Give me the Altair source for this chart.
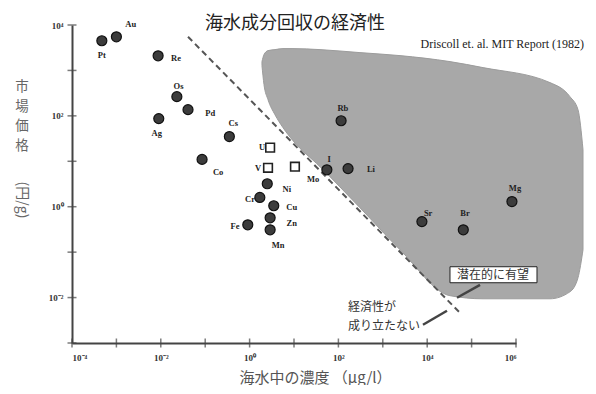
import json
import altair as alt
import pandas as pd

# ---- data ----
elements = ["Pt", "Au", "Re", "Os", "Pd", "Ag", "Cs", "Co", "U", "V", "Mo", "I",
            "Li", "Rb", "Ni", "Cr", "Cu", "Zn", "Mn", "Fe", "Sr", "Br", "Mg"]
conc = [4.7e-4, 1.0e-3, 8.7e-3, 0.023, 0.041, 0.009, 0.35, 0.085, 2.9, 2.6, 10.5, 55,
        165, 115, 2.5, 1.7, 3.5, 2.9, 2.9, 0.91, 7600, 65000, 8.1e5]
price = [4500, 5500, 2100, 265, 137, 87, 35, 11, 20, 7.2, 7.6, 6.5,
         6.9, 78, 3.2, 1.6, 1.05, 0.57, 0.31, 0.40, 0.47, 0.31, 1.3]
marker = ["circle"] * 8 + ["square"] * 3 + ["circle"] * 12
label_x = [4.7e-4, 2.1e-3, 0.022, 0.025, 0.13, 8.1e-3, 0.43, 0.195, 1.9, 1.55, 27, 62,
           540, 126, 6.9, 1.02, 8.9, 8.9, 4.4, 0.47, 1.05e4, 7.1e4, 9.5e5]
label_y = [2230, 1.07e4, 1900, 465, 118, 43, 71, 5.9, 21, 7.2, 4.1, 11.4,
           6.9, 151, 2.4, 1.5, 1.0, 0.44, 0.145, 0.38, 0.74, 0.74, 2.6]

# "potentially promising" region
region_x = [1.90, 2.11, 2.60, 3.73, 5.65, 9.49, 38.5, 306, 2440, 32600, 1.81e5,
            5.83e6, 1.64e7, 2.49e7, 3.23e7]
region_top = [1563, 2228, 2730, 2871, 3020, 3020, 2871, 2466, 2118, 1563, 1153,
              539, 265, 137, 18.0]
region_bottom = [1276, 487, 227, 106, 55, 28.4, 7.6, 0.95, 0.113, 0.0110, 0.0094,
                 0.0094, 0.0134, 0.0273, 0.113]

# break-even dashed line
dash_x = [0.041, 5.5e4]
dash_y = [5500, 4.6e-3]

# decade ticks and labels
x_ticks = [1e-4, 1e-3, 1e-2, 1e-1, 1, 1e1, 1e2, 1e3, 1e4, 1e5, 1e6]
y_ticks = [1e-3, 1e-2, 1e-1, 1, 1e1, 1e2, 1e3, 1e4]
x_label_values = [1e-4, 1e-2, 1, 1e2, 1e4, 1e6]
x_label_text = ["10⁻⁴", "10⁻²", "10⁰", "10²", "10⁴", "10⁶"]
y_label_values = [1e-2, 1, 1e2, 1e4]
y_label_text = ["10⁻²", "10⁰", "10²", "10⁴"]

# annotations
note_text = ["経済性が", "成り立たない"]
note_x = [164, 164]
note_y = [0.00627, 0.00239]
promise_text = "潜在的に有望"
promise_x, promise_y = 3.03e5, 0.0318
promise_box_x = [32600, 2.97e6]
promise_box_y = [0.0212, 0.0477]
leader_id = ["a", "a", "b", "b"]
leader_x = [8040, 27900, 46900, 1.55e5]
leader_y = [0.00252, 0.00512, 0.0099, 0.0191]
title_text = "海水成分回収の経済性"
title_x, title_y = 10.5, 1.07e4
source_text = "Driscoll et. al. MIT Report (1982)"
source_x, source_y = 3.40e7, 3890

JP = "Noto Sans CJK JP"
SERIF = "Liberation Serif"
INK = "#333333"

xscale = alt.Scale(type="log", domain=[1e-4, 1e6], nice=False)
yscale = alt.Scale(type="log", domain=[1e-3, 1e4], nice=False)

x_expr = json.dumps(x_label_text, ensure_ascii=False) + "[round((log(datum.value)/LN10+4)/2)]"
y_expr = json.dumps(y_label_text, ensure_ascii=False) + "[round((log(datum.value)/LN10+2)/2)]"

X = alt.X("x:Q", scale=xscale, axis=alt.Axis(
    values=x_label_values, labelExpr=x_expr, ticks=False, grid=False,
    labelPadding=10, labelFontSize=9, labelFont=SERIF, labelFontWeight="bold",
    labelColor=INK, domainColor="#444", domainWidth=2,
    title="海水中の濃度 （μg/l）", titleFont=JP, titleFontSize=15,
    titleFontWeight="normal", titleColor="#555", titleX=243, titleY=34,
    titleAlign="center", titleBaseline="middle"))
Y = alt.Y("y:Q", scale=yscale, axis=alt.Axis(
    values=y_label_values, labelExpr=y_expr, ticks=False, grid=False,
    labelPadding=9, labelFontSize=9, labelFont=SERIF, labelFontWeight="bold",
    labelColor=INK, domainColor="#444", domainWidth=2, title=None))

region_df = pd.DataFrame({"x": region_x, "y": region_top, "y2": region_bottom})
region = alt.Chart(region_df).mark_area(
    interpolate="monotone", color="#a8a8a8", stroke="#9c9c9c", strokeWidth=1
).encode(x=X, y=Y, y2=alt.Y2("y2"))

dash = alt.Chart(pd.DataFrame({"x": dash_x, "y": dash_y})).mark_line(
    color="#555", strokeWidth=2, strokeDash=[6, 4]).encode(x=X, y=Y)

xt = alt.Chart(pd.DataFrame({"x": x_ticks, "y": [1e-3] * len(x_ticks)})).mark_tick(
    orient="vertical", size=9, thickness=1.5, color="#444").encode(x=X, y=Y)
yt = alt.Chart(pd.DataFrame({"x": [1e-4] * len(y_ticks), "y": y_ticks})).mark_tick(
    orient="horizontal", size=9, thickness=1.5, color="#444").encode(x=X, y=Y)

pts_df = pd.DataFrame({"x": conc, "y": price, "el": elements, "marker": marker})
circles = alt.Chart(pts_df[pts_df.marker == "circle"]).mark_point(
    shape="circle", filled=True, size=100, fill="#3c3c3c", stroke="#111",
    strokeWidth=1.2, opacity=1).encode(x=X, y=Y)
squares = alt.Chart(pts_df[pts_df.marker == "square"]).mark_point(
    shape="square", filled=True, size=75, fill="white", stroke="#222",
    strokeWidth=1.6, opacity=1).encode(x=X, y=Y)

lab_df = pd.DataFrame({"x": label_x, "y": label_y, "el": elements})
labels = alt.Chart(lab_df).mark_text(
    font=SERIF, fontWeight="bold", fontSize=8.5, color="#222",
    align="center", baseline="middle").encode(x=X, y=Y, text="el:N")

note = alt.Chart(pd.DataFrame({"x": note_x, "y": note_y, "t": note_text})).mark_text(
    font=JP, fontSize=12, color="#333", align="left", baseline="middle"
).encode(x=X, y=Y, text="t:N")

box = alt.Chart(pd.DataFrame({"x": [promise_box_x[0]], "x2": [promise_box_x[1]],
                              "y": [promise_box_y[0]], "y2": [promise_box_y[1]]})).mark_rect(
    fill="white", stroke="#222", strokeWidth=1).encode(
    x=X, x2=alt.X2("x2"), y=Y, y2=alt.Y2("y2"))
promise = alt.Chart(pd.DataFrame({"x": [promise_x], "y": [promise_y], "t": [promise_text]})).mark_text(
    font=JP, fontSize=12, color="#333", align="center", baseline="middle"
).encode(x=X, y=Y, text="t:N")

leaders = alt.Chart(pd.DataFrame({"x": leader_x, "y": leader_y, "g": leader_id})).mark_line(
    color="#444", strokeWidth=2.5).encode(x=X, y=Y, detail="g:N")

title = alt.Chart(pd.DataFrame({"x": [title_x], "y": [title_y], "t": [title_text]})).mark_text(
    font=JP, fontSize=18, color="#222", align="center", baseline="middle"
).encode(x=X, y=Y, text="t:N")
source = alt.Chart(pd.DataFrame({"x": [source_x], "y": [source_y], "t": [source_text]})).mark_text(
    font=SERIF, fontSize=12, color="#222", align="right", baseline="middle"
).encode(x=X, y=Y, text="t:N")

ytitle1 = alt.Chart(pd.DataFrame({"x": [1]})).mark_text(
    text=["市", "場", "価", "格"], font=JP, fontSize=13.5, lineHeight=19.5, color="#666",
    align="center", baseline="middle").encode(x=alt.value(-50), y=alt.value(62))
ytitle2 = alt.Chart(pd.DataFrame({"x": [1]})).mark_text(
    text="(円/g)", font=JP, fontSize=14, color="#666", angle=90,
    align="center", baseline="middle").encode(x=alt.value(-50), y=alt.value(175))

chart = alt.layer(
    region, dash, xt, yt, circles, squares, labels, note, leaders, box, promise,
    title, source, ytitle1, ytitle2
).properties(
    width=444, height=318,
    autosize=alt.AutoSizeParams(type="none"),
    padding={"left": 64, "top": 17, "right": 70, "bottom": 42},
).configure_view(stroke=None)

chart.save("out.html", embed_options={"renderer": "svg", "actions": False})
